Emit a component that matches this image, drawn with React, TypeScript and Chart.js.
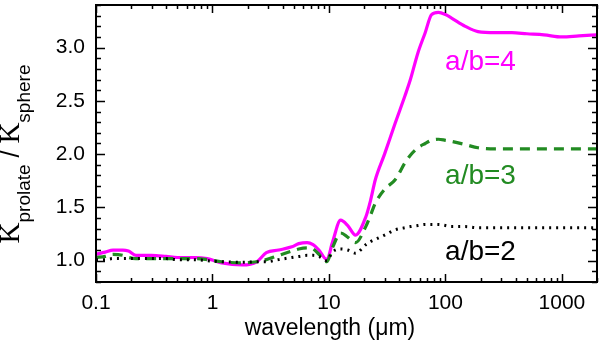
import React, { useEffect, useRef } from "react";
import { Chart, registerables } from "chart.js";

Chart.register(...registerables);

const wavelength = [0.1, 0.12, 0.14, 0.17, 0.19, 0.22, 0.3, 0.4, 0.5, 0.7, 0.9, 1.2, 1.8, 2.4, 2.9, 3.7, 4.8, 5.5, 6.5, 7.3, 8.2, 9.6, 10.7, 12.6, 14.5, 16.9, 20.7, 22.8, 25, 30, 37, 45, 50, 58, 67, 76, 87, 100, 112, 148, 190, 270, 372, 500, 700, 1000, 1400, 2000];

const ratioAB4 = [1.06, 1.08, 1.10, 1.10, 1.09, 1.05, 1.05, 1.04, 1.03, 1.03, 1.02, 0.98, 0.96, 0.99, 1.075, 1.10, 1.13, 1.16, 1.17, 1.15, 1.10, 1.01, 1.17, 1.38, 1.33, 1.24, 1.41, 1.57, 1.76, 2.00, 2.29, 2.55, 2.70, 2.95, 3.14, 3.31, 3.33, 3.31, 3.28, 3.20, 3.15, 3.14, 3.14, 3.13, 3.12, 3.10, 3.11, 3.12];

const ratioAB3 = [1.03, 1.04, 1.06, 1.05, 1.03, 1.02, 1.02, 1.02, 1.02, 1.02, 1.01, 0.99, 0.98, 0.99, 1.01, 1.05, 1.09, 1.11, 1.12, 1.11, 1.06, 0.99, 1.12, 1.26, 1.22, 1.17, 1.32, 1.43, 1.54, 1.67, 1.76, 1.92, 1.99, 2.06, 2.10, 2.13, 2.14, 2.13, 2.12, 2.09, 2.06, 2.05, 2.05, 2.05, 2.05, 2.05, 2.05, 2.05];

const ratioAB2 = [1.01, 1.01, 1.02, 1.02, 1.02, 1.02, 1.02, 1.02, 1.01, 1.01, 1.0, 0.99, 0.985, 0.99, 0.99, 1.01, 1.03, 1.04, 1.05, 1.05, 1.04, 1.0, 1.08, 1.11, 1.10, 1.07, 1.15, 1.18, 1.20, 1.24, 1.29, 1.31, 1.32, 1.33, 1.34, 1.34, 1.34, 1.33, 1.32, 1.32, 1.31, 1.31, 1.31, 1.31, 1.31, 1.31, 1.31, 1.31];

const xTickValues = [0.1, 1, 10, 100, 1000];
const xTickLabels = ["0.1", "1", "10", "100", "1000"];
const yTickValues = [1.0, 1.5, 2.0, 2.5, 3.0];
const yTickLabels = ["1.0", "1.5", "2.0", "2.5", "3.0"];

const seriesLabels = ["a/b=4", "a/b=3", "a/b=2"];
const seriesColors = ["#ff00ff", "#228b22", "#000000"];
const labelLambda = [200, 200, 200];
const labelValue = [2.86, 1.79, 1.075];

const SANS = "'Liberation Sans', Arial, Helvetica, sans-serif";
const SERIF = "'Liberation Serif', 'Times New Roman', serif";

const framePlugin = {
  id: "framePlugin",
  afterDatasetsDraw(chart: any) {
    const ctx = chart.ctx;
    const { left, right, top, bottom } = chart.chartArea;
    const xs = chart.scales.x;
    const ys = chart.scales.y;
    ctx.save();
    ctx.strokeStyle = "#000";
    ctx.lineWidth = 1.5;
    for (let d = -1; d <= 3; d++) {
      for (let m = 1; m <= 9; m++) {
        const v = m * Math.pow(10, d);
        if (v < 0.1 || v > 2000) continue;
        const px = Math.round(xs.getPixelForValue(v)) + 0.5;
        const len = m === 1 ? 8 : 4;
        ctx.beginPath();
        ctx.moveTo(px, bottom);
        ctx.lineTo(px, bottom - len);
        ctx.moveTo(px, top);
        ctx.lineTo(px, top + len);
        ctx.stroke();
      }
    }
    for (let i = 8; i <= 34; i++) {
      const v = i / 10;
      const py = Math.round(ys.getPixelForValue(v)) + 0.5;
      const len = i % 5 === 0 ? 9 : 5;
      ctx.beginPath();
      ctx.moveTo(left, py);
      ctx.lineTo(left + len, py);
      ctx.moveTo(right, py);
      ctx.lineTo(right - len, py);
      ctx.stroke();
    }
    ctx.lineWidth = 2;
    ctx.strokeRect(left, top, right - left, bottom - top);

    ctx.font = `28px ${SANS}`;
    ctx.textAlign = "center";
    ctx.textBaseline = "middle";
    for (let i = 0; i < seriesLabels.length; i++) {
      ctx.fillStyle = seriesColors[i];
      ctx.fillText(seriesLabels[i], xs.getPixelForValue(labelLambda[i]), ys.getPixelForValue(labelValue[i]));
    }

    ctx.fillStyle = "#000";
    ctx.font = `23px ${SANS}`;
    ctx.textAlign = "center";
    ctx.textBaseline = "middle";
    ctx.fillText("wavelength (\u03bcm)", 330, 329);

    ctx.save();
    ctx.translate(19, 154);
    ctx.rotate(-Math.PI / 2);
    const parts = [
      { t: "K", f: `29px ${SERIF}`, dy: 0 },
      { t: "prolate", f: `19px ${SANS}`, dy: 11 },
      { t: " / ", f: `25px ${SANS}`, dy: 0 },
      { t: "K", f: `29px ${SERIF}`, dy: 0 },
      { t: "sphere", f: `19px ${SANS}`, dy: 11 },
    ];
    let total = 0;
    const widths: number[] = [];
    for (const p of parts) {
      ctx.font = p.f;
      const w = ctx.measureText(p.t).width;
      widths.push(w);
      total += w;
    }
    let cx = -total / 2;
    ctx.textAlign = "left";
    ctx.textBaseline = "alphabetic";
    parts.forEach((p, i) => {
      ctx.font = p.f;
      ctx.fillText(p.t, cx, p.dy);
      cx += widths[i];
    });
    ctx.restore();
    ctx.restore();
  },
};

export default function App() {
  const ref = useRef<HTMLCanvasElement>(null);
  useEffect(() => {
    document.body.style.margin = "0";
    const mk = (vals: number[]) => wavelength.map((x, i) => ({ x, y: vals[i] }));
    const chart = new Chart(ref.current!, {
      type: "line",
      data: {
        datasets: [
          {
            data: mk(ratioAB2),
            borderColor: seriesColors[2],
            borderWidth: 3,
            borderDash: [2, 5],
            pointRadius: 0,
            cubicInterpolationMode: "monotone",
          },
          {
            data: mk(ratioAB3),
            borderColor: seriesColors[1],
            borderWidth: 3.2,
            borderDash: [10, 7],
            pointRadius: 0,
            cubicInterpolationMode: "monotone",
          },
          {
            data: mk(ratioAB4),
            borderColor: seriesColors[0],
            borderWidth: 3.2,
            pointRadius: 0,
            cubicInterpolationMode: "monotone",
          },
        ],
      },
      plugins: [framePlugin],
      options: {
        animation: false,
        responsive: false,
        maintainAspectRatio: false,
        layout: { padding: { top: 5, right: 3, left: 0, bottom: 0 } },
        plugins: { legend: { display: false }, tooltip: { enabled: false } },
        scales: {
          x: {
            type: "logarithmic",
            min: 0.1,
            max: 2000,
            grid: { display: false, drawTicks: false },
            border: { display: false },
            afterBuildTicks: (s: any) => {
              s.ticks = xTickValues.map((v) => ({ value: v }));
            },
            afterFit: (s: any) => {
              s.height = 67;
              s.paddingLeft = 0;
              s.paddingRight = 0;
              s.paddingTop = 0;
              s.paddingBottom = 0;
            },
            ticks: {
              autoSkip: false,
              maxRotation: 0,
              padding: 9,
              color: "#000",
              font: { family: SANS, size: 21 },
              callback: (v: any) => {
                const i = xTickValues.indexOf(Number(v));
                return i >= 0 ? xTickLabels[i] : "";
              },
            },
          },
          y: {
            min: 0.8,
            max: 3.4,
            grid: { display: false, drawTicks: false },
            border: { display: false },
            afterBuildTicks: (s: any) => {
              s.ticks = yTickValues.map((v) => ({ value: v }));
            },
            afterFit: (s: any) => {
              s.width = 96;
              s.paddingLeft = 0;
              s.paddingRight = 0;
              s.paddingTop = 0;
              s.paddingBottom = 0;
            },
            ticks: {
              autoSkip: false,
              padding: 11,
              color: "#000",
              font: { family: SANS, size: 21 },
              callback: (v: any) => {
                const i = yTickValues.findIndex((t) => Math.abs(t - Number(v)) < 1e-6);
                return i >= 0 ? yTickLabels[i] : "";
              },
            },
          },
        },
      },
    });
    return () => chart.destroy();
  }, []);
  return (
    <div style={{ position: "absolute", left: 0, top: 0, width: 600, height: 349 }}>
      <canvas ref={ref} width={600} height={349} />
    </div>
  );
}
